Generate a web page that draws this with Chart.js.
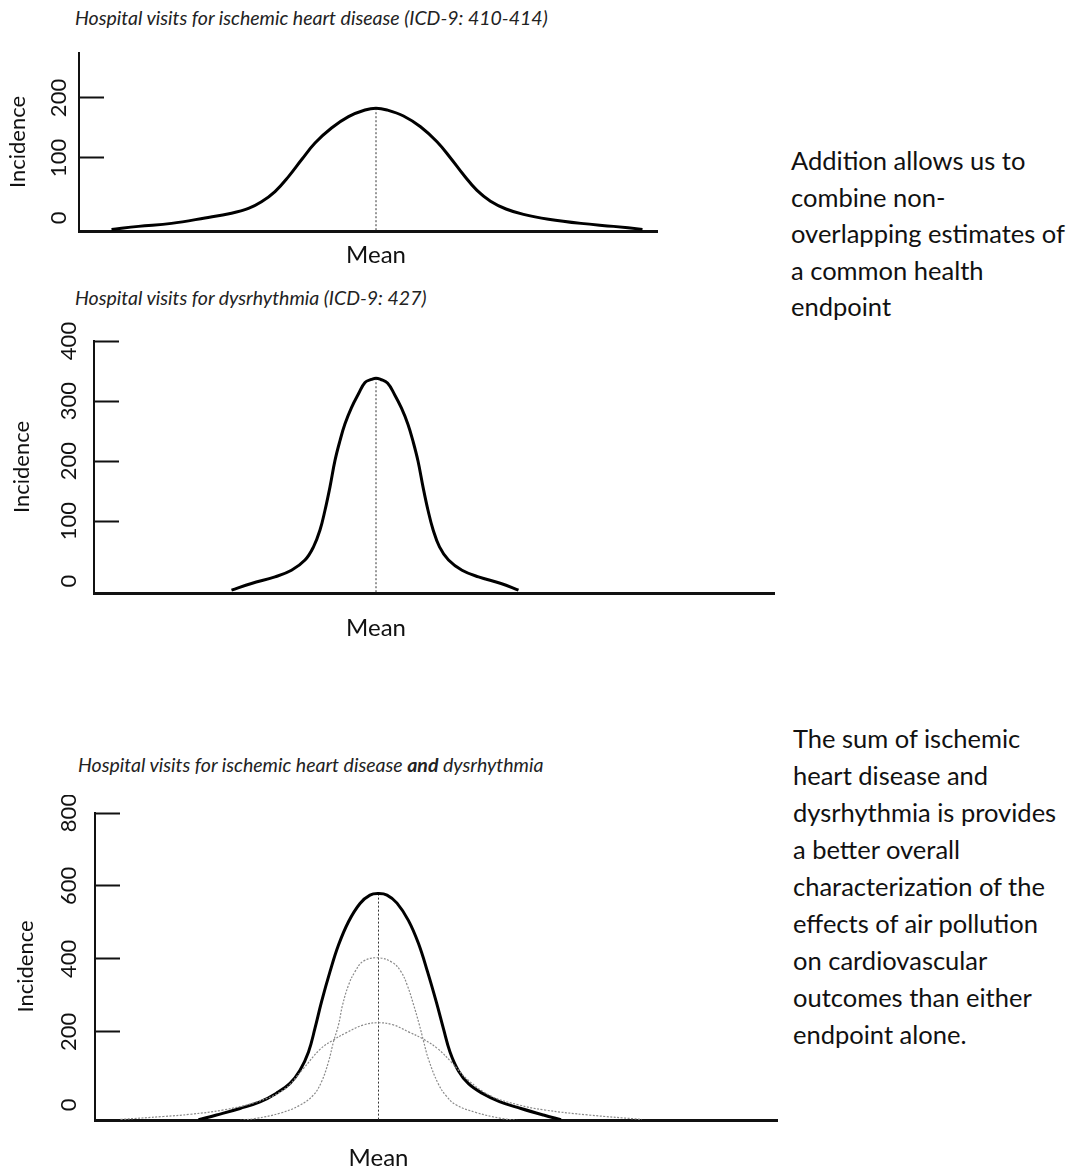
<!DOCTYPE html>
<html><head><meta charset="utf-8">
<script src="https://cdn.jsdelivr.net/npm/chart.js@4"></script>
<style>
html,body{margin:0;padding:0;background:#fff;}
body{width:1070px;height:1169px;position:relative;overflow:hidden;font-family:Lato,sans-serif;color:#111;}
.title{position:absolute;font-style:italic;font-size:19.5px;line-height:22px;white-space:nowrap;color:#222;}
.note{position:absolute;font-size:25.5px;white-space:nowrap;color:#111;}
canvas{position:absolute;left:0;}
</style></head><body>
<div class="title" style="left:75px;top:7px">Hospital visits for ischemic heart disease (ICD-9: 410-414)</div>
<div class="title" style="left:75px;top:287px">Hospital visits for dysrhythmia (ICD-9: 427)</div>
<div class="title" style="left:78px;top:754px">Hospital visits for ischemic heart disease <b>and</b> dysrhythmia</div>
<div class="note" style="left:791px;top:142px;line-height:36.5px">Addition allows us to<br>combine non-<br>overlapping estimates of<br>a common health<br>endpoint</div>
<div class="note" style="left:793px;top:720px;line-height:37px">The sum of ischemic<br>heart disease and<br>dysrhythmia is provides<br>a better overall<br>characterization of the<br>effects of air pollution<br>on cardiovascular<br>outcomes than either<br>endpoint alone.</div>
<canvas id="c1" width="680" height="250" style="top:30px"></canvas>
<canvas id="c2" width="790" height="320" style="top:320px"></canvas>
<canvas id="c3" width="790" height="374" style="top:795px"></canvas>
<script>
// ---- data (x: distance from the mean, arbitrary units; y: incidence) ----
const meanLabel = 'Mean';
const meanTick = 0;
const axisTitle = 'Incidence';

// Chart 1: ischemic heart disease
const ihdX = [-5.29,-4.75,-4.09,-3.42,-2.89,-2.55,-2.29,-2.02,-1.75,-1.49,-1.22,-0.89,-0.55,-0.22,0,0.22,0.55,0.89,1.22,1.49,1.75,2.02,2.29,2.6,2.95,3.45,4.1,4.75,5.33];
const ihdY = [-19,-14,-9,0,8,16,27,44,69,97,125,150,169,180,183,180,170,152,127,100,72,46,28,15,6,-2,-9,-14,-19];
const ihdTicks = [0,100,200];
const ihdMeanLine = [183,-21.7];

// Chart 2: dysrhythmia
const dysX = [-2.89,-2.49,-2.02,-1.69,-1.42,-1.25,-1.12,-1.02,-0.92,-0.82,-0.72,-0.62,-0.49,-0.35,-0.22,-0.09,0,0.09,0.23,0.37,0.51,0.64,0.74,0.84,0.94,1.04,1.14,1.27,1.45,1.72,2.05,2.5,2.85];
const dysY = [-15,-4,7,18,35,57,85,118,157,201,234,262,289,312,331,336,338,336,330,311,288,261,233,200,157,118,86,57,35,18,7,-4,-15];
const dysTicks = [0,100,200,300,400];
const dysMeanLine = [338,-19.9];

// Chart 3: sum of both (bold), with the two components (thin)
const sumX = [-3.60,-3.24,-2.77,-2.37,-2.04,-1.77,-1.57,-1.40,-1.27,-1.14,-0.97,-0.80,-0.60,-0.37,-0.17,0,0.17,0.37,0.60,0.80,0.98,1.16,1.30,1.43,1.60,1.80,2.07,2.42,2.85,3.30,3.65];
const sumY = [-41,-28,-10,8,32,59,95,145,210,282,365,438,502,552,575,579,575,553,505,442,365,280,208,145,93,58,32,9,-10,-28,-41];
const dys3X = [-2.84,-2.44,-1.97,-1.57,-1.30,-1.14,-1.00,-0.90,-0.80,-0.72,-0.60,-0.47,-0.30,0,0.28,0.45,0.58,0.70,0.81,0.90,1.00,1.19,1.35,1.55,1.95,2.45,2.85];
const dys3Y = [-44,-37,-23,-1,27,63,118,173,219,273,328,365,394,403,390,365,326,275,223,175,125,59,25,0,-21,-37,-44];
const ihd3X = [-5.16,-4.3,-3.77,-3.10,-2.44,-1.90,-1.50,-1.17,-0.90,-0.64,-0.30,0,0.30,0.60,0.90,1.20,1.45,1.79,2.25,2.80,3.31,4.21,5.27];
const ihd3Y = [-40,-32,-26,-14,8,41,100,152,178,198,219,225,219,200,180,152,118,68,24,0,-14,-28,-40];
const sumTicks = [0,200,400,600,800];
const sumMeanLine = [579,-41.6];

// ---- rendering ----
Chart.defaults.font.family = 'Lato';
Chart.defaults.color = '#111';

function pts(xs, ys){ return xs.map((x,i)=>({x:x, y:ys[i]})); }
function meanLine(vals){ return [{x:meanTick,y:vals[0]},{x:meanTick,y:vals[1]}]; }
const boldStyle = {borderColor:'#000', borderWidth:3, pointRadius:0, tension:0.4};
const meanStyle = {borderColor:'#333', borderWidth:1, borderDash:[2,2], pointRadius:0, tension:0};
const thinStyle = {borderColor:'#8a8a8a', borderWidth:1.2, borderDash:[2,1.5], pointRadius:0, tension:0.4};

function build(id, cfg){
  return new Chart(document.getElementById(id), {
    type:'line',
    data:{datasets:cfg.datasets},
    options:{
      responsive:false, animation:false, events:[],
      layout:{padding:{top:cfg.padTop, right:cfg.padRight, left:0, bottom:0}},
      plugins:{legend:{display:false}, tooltip:{enabled:false}},
      elements:{point:{radius:0}},
      scales:{
        x:{type:'linear', min:cfg.xMin, max:cfg.xMax,
          grid:{display:false, drawTicks:false},
          border:{display:true, color:'#111', width:cfg.xBorder},
          afterBuildTicks:s=>{ s.ticks=[{value:meanTick}]; },
          afterFit:s=>{ s.height=cfg.xHeight; s.paddingLeft=0; s.paddingRight=0; },
          ticks:{autoSkip:false, maxRotation:0, padding:cfg.meanPad, font:{size:24}, color:'#111', callback:()=>meanLabel}
        },
        y:{type:'linear', min:cfg.yMin, max:cfg.yMax,
          grid:{display:true, drawOnChartArea:false, drawTicks:true, tickLength:-25, tickWidth:2,
                tickColor:c=>(c.tick && c.tick.value===0) ? 'rgba(0,0,0,0)' : '#111'},
          border:{display:true, color:'#111', width:2},
          afterBuildTicks:s=>{ s.ticks=cfg.yTicks.map(v=>({value:v})); },
          afterFit:s=>{ s.width=cfg.yWidth; s.paddingTop=0; s.paddingBottom=0; },
          ticks:{autoSkip:false, minRotation:90, maxRotation:90, crossAlign:'center', padding:cfg.tickPad, font:{size:22}, color:'#111'},
          title:{display:true, text:axisTitle, font:{size:22}, color:'#111', padding:{top:cfg.titlePad, bottom:0}}
        }
      }
    }
  });
}

build('c1', {
  datasets:[Object.assign({data:pts(ihdX,ihdY)}, boldStyle), Object.assign({data:meanLine(ihdMeanLine)}, meanStyle)],
  padTop:23, padRight:23, xMin:-5.94, xMax:5.62, yMin:-21.7, yMax:275,
  yTicks:ihdTicks, yWidth:79, xHeight:49, xBorder:3, meanPad:10, tickPad:25.5, titlePad:4.5
});
build('c2', {
  datasets:[Object.assign({data:pts(dysX,dysY)}, boldStyle), Object.assign({data:meanLine(dysMeanLine)}, meanStyle)],
  padTop:21, padRight:16, xMin:-5.64, xMax:7.96, yMin:-19.9, yMax:400,
  yTicks:dysTicks, yWidth:94, xHeight:47, xBorder:3, meanPad:21, tickPad:31, titlePad:9
});
build('c3', {
  datasets:[Object.assign({data:pts(ihd3X,ihd3Y)}, thinStyle), Object.assign({data:pts(dys3X,dys3Y)}, thinStyle),
            Object.assign({data:pts(sumX,sumY)}, boldStyle), Object.assign({data:meanLine(sumMeanLine)}, meanStyle)],
  padTop:18, padRight:13, xMin:-5.67, xMax:7.97, yMin:-41.6, yMax:800,
  yTicks:sumTicks, yWidth:95, xHeight:49, xBorder:3, meanPad:24, tickPad:31.5, titlePad:12.5
});
</script>
</body></html>
